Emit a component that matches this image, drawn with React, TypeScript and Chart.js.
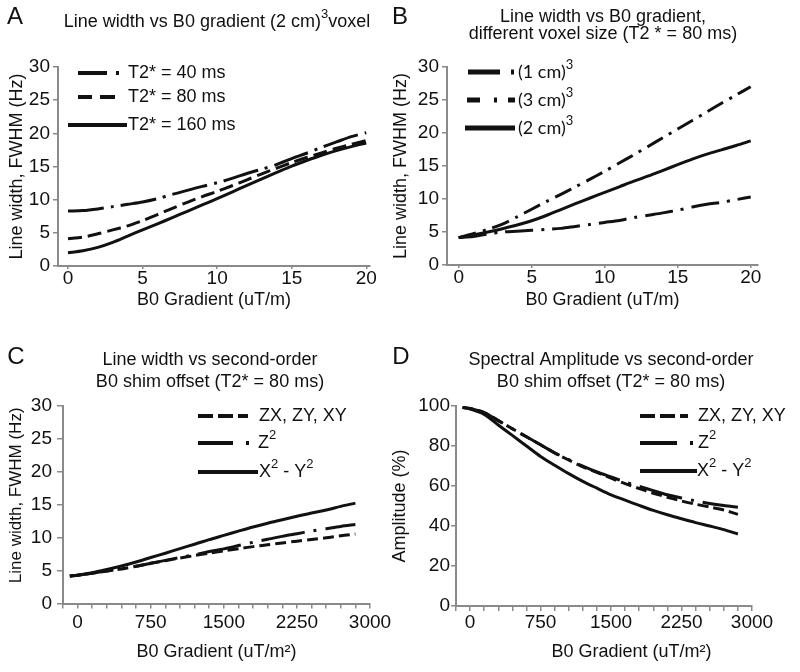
import React, { useEffect, useRef } from 'react';
import { Chart, registerables } from 'chart.js';

Chart.register(...registerables);

// ---------------- Data ----------------
// Panels A and B: B0 gradient (uT/m)
const gradient = [0, 1, 2, 3, 4, 5, 6, 7, 8, 9, 10, 11, 12, 13, 14, 15, 16, 17, 18, 19, 20];

// Panel A: line width (Hz) for (2 cm)^3 voxel, different T2*
const t2s40 = [8.3, 8.35, 8.6, 8.95, 9.3, 9.65, 10.15, 10.8, 11.4, 12.0, 12.55, 13.2, 13.95, 14.6, 15.3, 16.2, 17.0, 17.9, 18.7, 19.5, 20.1];
const t2s80 = [4.1, 4.35, 4.85, 5.45, 6.05, 6.85, 7.75, 8.7, 9.6, 10.45, 11.25, 12.1, 13.0, 13.9, 14.75, 15.6, 16.35, 17.05, 17.75, 18.35, 18.9];
const t2s160 = [2.0, 2.3, 2.8, 3.55, 4.5, 5.45, 6.35, 7.3, 8.25, 9.2, 10.15, 11.15, 12.15, 13.15, 14.1, 15.05, 15.9, 16.7, 17.4, 18.0, 18.55];

// Panel B: line width (Hz), T2* = 80 ms, different voxel sizes
const voxel1 = [4.15, 4.3, 4.7, 5.0, 5.12, 5.25, 5.4, 5.55, 5.85, 6.15, 6.45, 6.75, 7.2, 7.55, 7.9, 8.3, 8.8, 9.2, 9.5, 9.9, 10.3];
const voxel3 = [4.15, 4.75, 5.4, 6.2, 7.3, 8.45, 9.6, 10.7, 11.85, 13.0, 14.2, 15.45, 16.7, 18.0, 19.3, 20.6, 21.9, 23.2, 24.5, 25.75, 27.0];
const voxel2 = [4.15, 4.55, 5.0, 5.5, 6.05, 6.7, 7.5, 8.4, 9.3, 10.15, 11.0, 11.85, 12.7, 13.5, 14.35, 15.2, 16.05, 16.8, 17.45, 18.1, 18.8];

// Panels C and D: second-order B0 shim offset (uT/m^2)
const shimOffset = [-80, 0, 150, 300, 450, 600, 750, 900, 1050, 1200, 1350, 1500, 1650, 1800, 1950, 2100, 2250, 2400, 2550, 2700, 2850];

// Panel C: line width (Hz)
const lwZX = [4.18, 4.3, 4.6, 4.95, 5.25, 5.65, 6.1, 6.5, 6.9, 7.28, 7.65, 8.0, 8.33, 8.64, 8.93, 9.2, 9.47, 9.73, 9.98, 10.3, 10.55];
const lwZ2 = [4.18, 4.3, 4.6, 4.95, 5.25, 5.65, 6.1, 6.55, 7.0, 7.4, 7.9, 8.3, 8.8, 9.3, 9.75, 10.2, 10.6, 11.0, 11.35, 11.7, 12.0];
const lwX2Y2 = [4.18, 4.3, 4.68, 5.17, 5.7, 6.3, 6.98, 7.64, 8.34, 9.0, 9.7, 10.35, 11.0, 11.63, 12.2, 12.72, 13.25, 13.75, 14.2, 14.75, 15.25];

// Panel D: spectral amplitude (%)
const ampZX = [99.3, 98.8, 96.7, 92.7, 88.6, 84.6, 80.6, 76.5, 73.0, 69.6, 66.8, 63.9, 61.2, 58.7, 56.4, 54.4, 52.5, 50.9, 49.5, 48.0, 45.8];
const ampZ2 = [99.3, 98.8, 96.7, 92.7, 88.6, 84.6, 80.6, 76.6, 73.2, 69.9, 67.0, 64.5, 62.0, 59.8, 57.7, 55.6, 54.0, 52.5, 51.2, 50.2, 49.4];
const ampX2Y2 = [99.3, 98.5, 95.8, 90.5, 85.3, 80.0, 74.8, 70.4, 66.2, 62.3, 58.9, 55.6, 52.9, 50.3, 47.8, 45.6, 43.6, 41.7, 40.0, 38.2, 36.0];

// Labels
const labelsA = ['T2* = 40 ms', 'T2* = 80 ms', 'T2* = 160 ms'];
const labelsB = ['(1 cm)³', '(3 cm)³', '(2 cm)³'];
const labelsCD = ['ZX, ZY, XY', 'Z²', 'X² - Y²'];

// ---------------- Styling helpers ----------------
const FONT = '"Liberation Sans", Arial, sans-serif';
const INK = '#111111';
const AXIS = '#8a8a8a';

function drawRich(ctx: CanvasRenderingContext2D, text: string, x: number, y: number, size: number, family: string, align: string) {
  const segs: { t: string; sup: boolean; w: number }[] = [];
  for (const ch of text) {
    const sup = ch === '²' || ch === '³';
    const c = sup ? (ch === '²' ? '2' : '3') : ch;
    const last = segs[segs.length - 1];
    if (last && last.sup === sup) last.t += c;
    else segs.push({ t: c, sup, w: 0 });
  }
  const fontN = `${size}px ${family}`;
  const fontS = `${Math.round(size * 0.7)}px ${family}`;
  let total = 0;
  for (const s of segs) {
    ctx.font = s.sup ? fontS : fontN;
    s.w = ctx.measureText(s.t).width;
    total += s.w;
  }
  let cx = align === 'center' ? x - total / 2 : align === 'right' ? x - total : x;
  ctx.textAlign = 'left';
  ctx.textBaseline = 'middle';
  for (const s of segs) {
    ctx.font = s.sup ? fontS : fontN;
    ctx.fillText(s.t, cx, s.sup ? y - size * 0.42 : y);
    cx += s.w;
  }
}

const panelText = {
  id: 'panelText',
  afterDraw(chart: any, _args: any, o: any) {
    const ctx: CanvasRenderingContext2D = chart.ctx;
    ctx.save();
    ctx.fillStyle = INK;
    if (o.letter) {
      ctx.font = `24px ${FONT}`;
      ctx.textAlign = 'center';
      ctx.textBaseline = 'middle';
      ctx.fillText(o.letter.text, o.letter.x, o.letter.y);
    }
    (o.title || []).forEach((t: any) => drawRich(ctx, t.text, t.x, t.y, 18, FONT, 'center'));
    if (o.legend) {
      const L = o.legend;
      chart.data.datasets.forEach((ds: any, i: number) => {
        const r = L.rows[i];
        ctx.save();
        ctx.strokeStyle = INK;
        ctx.lineWidth = L.lineWidth;
        ctx.lineCap = 'butt';
        ctx.setLineDash(r.dash);
        ctx.beginPath();
        ctx.moveTo(r.x1, r.y);
        ctx.lineTo(r.x2, r.y);
        ctx.stroke();
        ctx.restore();
        ctx.fillStyle = INK;
        drawRich(ctx, ds.label, r.tx, r.y, L.size, L.family, 'left');
      });
    }
    ctx.restore();
  },
};

function series(xs: number[], ys: number[]) {
  return xs.map((x, i) => ({ x, y: ys[i] }));
}

const panels = [
  {
    id: 'A',
    box: { x: 0, y: 0, w: 400, h: 311 },
    pad: { top: 67, left: 0, right: 30, bottom: 0 },
    yW: 58,
    xH: 45,
    xs: gradient,
    series: [
      { label: labelsA[0], values: t2s40, dash: [36, 7, 3, 7] },
      { label: labelsA[1], values: t2s80, dash: [14, 6] },
      { label: labelsA[2], values: t2s160, dash: [] },
    ],
    x: { min: -0.67, max: 20.25, step: 5, tickLen: 3, tickPad: 0, title: 'B0 Gradient (uT/m)', titlePad: 0, major: 0 },
    y: { min: 0, max: 30, step: 5, tickLen: 5, tickPad: 3, title: 'Line width, FWHM (Hz)', titlePad: 6, titleSize: 18 },
    text: {
      letter: { text: 'A', x: 15, y: 17 },
      title: [{ text: 'Line width vs B0 gradient (2 cm)³voxel', x: 217, y: 22 }],
      legend: {
        lineWidth: 4, size: 18, family: FONT,
        rows: [
          { x1: 78, x2: 119, tx: 128, y: 73, dash: [29, 9, 3, 100] },
          { x1: 78, x2: 115, tx: 128, y: 97, dash: [14, 8, 15, 100] },
          { x1: 68, x2: 127, tx: 128, y: 125, dash: [] },
        ],
      },
    },
  },
  {
    id: 'B',
    box: { x: 385, y: 0, w: 415, h: 311 },
    pad: { top: 67, left: 0, right: 42, bottom: 0 },
    yW: 62,
    xH: 46,
    xs: gradient,
    series: [
      { label: labelsB[0], values: voxel1, dash: [28, 8, 3, 8] },
      { label: labelsB[1], values: voxel3, dash: [18, 7, 3, 7] },
      { label: labelsB[2], values: voxel2, dash: [] },
    ],
    x: { min: -0.8, max: 20.5, step: 5, tickLen: 3, tickPad: 0, title: 'B0 Gradient (uT/m)', titlePad: 0, major: 0 },
    y: { min: 0, max: 30, step: 5, tickLen: 5, tickPad: 3, title: 'Line width, FWHM (Hz)', titlePad: 5, titleSize: 18 },
    text: {
      letter: { text: 'B', x: 15, y: 17 },
      title: [
        { text: 'Line width vs B0 gradient,', x: 218, y: 17 },
        { text: 'different voxel size (T2 * = 80 ms)', x: 218, y: 34 },
      ],
      legend: {
        lineWidth: 5, size: 18, family: 'Lato, "Open Sans", sans-serif',
        rows: [
          { x1: 83, x2: 131, tx: 133, y: 72, dash: [32, 11, 3, 100] },
          { x1: 82, x2: 130, tx: 133, y: 100, dash: [13, 14, 3, 11, 7, 100] },
          { x1: 80, x2: 130, tx: 133, y: 128, dash: [] },
        ],
      },
    },
  },
  {
    id: 'C',
    box: { x: 0, y: 335, w: 400, h: 337 },
    pad: { top: 71, left: 0, right: 30, bottom: 0 },
    yW: 63,
    xH: 68.5,
    xs: shimOffset,
    series: [
      { label: labelsCD[0], values: lwZX, dash: [11, 5] },
      { label: labelsCD[1], values: lwZ2, dash: [44, 9, 3, 9] },
      { label: labelsCD[2], values: lwX2Y2, dash: [] },
    ],
    x: { min: -150, max: 3000, step: 150, tickLen: 5, tickPad: 5, title: 'B0 Gradient (uT/m²)', titlePad: 9, major: 750 },
    y: { min: 0, max: 30, step: 5, tickLen: 6, tickPad: 5, title: '    Line width, FWHM (Hz)', titlePad: 6, titleSize: 17 },
    text: {
      letter: { text: 'C', x: 16, y: 22 },
      title: [
        { text: 'Line width vs second-order', x: 210, y: 25 },
        { text: 'B0 shim offset (T2* = 80 ms)', x: 210, y: 47 },
      ],
      legend: {
        lineWidth: 4, size: 18, family: FONT,
        rows: [
          { x1: 198, x2: 248, tx: 259, y: 81, dash: [15, 5] },
          { x1: 198, x2: 249, tx: 258, y: 108, dash: [35, 13, 3, 100] },
          { x1: 198, x2: 258, tx: 259, y: 137, dash: [] },
        ],
      },
    },
  },
  {
    id: 'D',
    box: { x: 385, y: 335, w: 415, h: 337 },
    pad: { top: 71, left: 0, right: 48, bottom: 0 },
    yW: 71,
    xH: 66,
    xs: shimOffset,
    series: [
      { label: labelsCD[0], values: ampZX, dash: [11, 5] },
      { label: labelsCD[1], values: ampZ2, dash: [44, 9, 3, 9] },
      { label: labelsCD[2], values: ampX2Y2, dash: [] },
    ],
    x: { min: -150, max: 3000, step: 150, tickLen: 5, tickPad: 2.5, title: '           B0 Gradient (uT/m²)', titlePad: 9, major: 750 },
    y: { min: 0, max: 100, step: 20, tickLen: 5, tickPad: 1, title: 'Amplitude (%)', titlePad: 4, titleSize: 18 },
    text: {
      letter: { text: 'D', x: 16, y: 22 },
      title: [
        { text: 'Spectral Amplitude vs second-order', x: 226, y: 25 },
        { text: 'B0 shim offset (T2* = 80 ms)', x: 226, y: 47 },
      ],
      legend: {
        lineWidth: 4, size: 18, family: FONT,
        rows: [
          { x1: 255, x2: 303, tx: 313, y: 81, dash: [15, 5] },
          { x1: 255, x2: 308, tx: 313, y: 108, dash: [37, 13, 3, 100] },
          { x1: 255, x2: 312, tx: 312, y: 136, dash: [] },
        ],
      },
    },
  },
];

function buildConfig(p: any): any {
  const tickFont = { family: FONT, size: 19, lineHeight: 1 };
  const titleFont = { family: FONT, size: 18 };
  return {
    type: 'line',
    data: {
      datasets: p.series.map((s: any) => ({
        label: s.label,
        data: series(p.xs, s.values),
        borderColor: INK,
        backgroundColor: INK,
        borderWidth: 3,
        borderDash: s.dash,
        pointRadius: 0,
        tension: 0.3,
        fill: false,
      })),
    },
    options: {
      responsive: false,
      animation: false,
      events: [],
      layout: { padding: p.pad, autoPadding: false },
      plugins: {
        legend: { display: false },
        tooltip: { enabled: false },
        title: { display: false },
        panelText: p.text,
      },
      scales: {
        x: {
          type: 'linear',
          min: p.x.min,
          max: p.x.max,
          afterFit: (s: any) => { s.height = p.xH; },
          border: { display: true, color: AXIS, width: 2 },
          grid: { display: true, drawOnChartArea: false, drawTicks: true, tickLength: p.x.tickLen, color: AXIS, lineWidth: 1.5 },
          ticks: {
            stepSize: p.x.step,
            includeBounds: false,
            autoSkip: false,
            maxRotation: 0,
            padding: p.x.tickPad,
            color: INK,
            font: tickFont,
            callback: (v: number) => {
              const r = Math.round(v);
              if (Math.abs(v - r) > 1e-6) return '';
              if (p.x.major) return r >= 0 && r % p.x.major === 0 ? String(r) : '';
              return String(r);
            },
          },
          title: { display: true, text: p.x.title, color: INK, font: titleFont, padding: { top: 0, bottom: p.x.titlePad } },
        },
        y: {
          type: 'linear',
          min: p.y.min,
          max: p.y.max,
          afterFit: (s: any) => { s.width = p.yW; },
          border: { display: true, color: AXIS, width: 2 },
          grid: { display: true, drawOnChartArea: false, drawTicks: true, tickLength: p.y.tickLen, color: AXIS, lineWidth: 1.5 },
          ticks: { stepSize: p.y.step, autoSkip: false, padding: p.y.tickPad, color: INK, font: tickFont },
          title: {
            display: true,
            text: p.y.title,
            color: INK,
            font: { family: FONT, size: p.y.titleSize },
            padding: { top: p.y.titlePad, bottom: 0 },
          },
        },
      },
    },
    plugins: [panelText],
  };
}

function Panel({ p }: { p: any }) {
  const ref = useRef<HTMLCanvasElement | null>(null);
  useEffect(() => {
    if (!ref.current) return;
    const chart = new Chart(ref.current, buildConfig(p));
    return () => chart.destroy();
  }, [p]);
  return (
    <canvas
      ref={ref}
      width={p.box.w}
      height={p.box.h}
      style={{ position: 'absolute', left: p.box.x, top: p.box.y, width: p.box.w, height: p.box.h }}
    />
  );
}

export default function App() {
  return (
    <div style={{ position: 'absolute', left: 0, top: 0, width: 800, height: 672, background: '#ffffff', overflow: 'hidden' }}>
      {panels.map((p) => (
        <Panel key={p.id} p={p} />
      ))}
    </div>
  );
}
